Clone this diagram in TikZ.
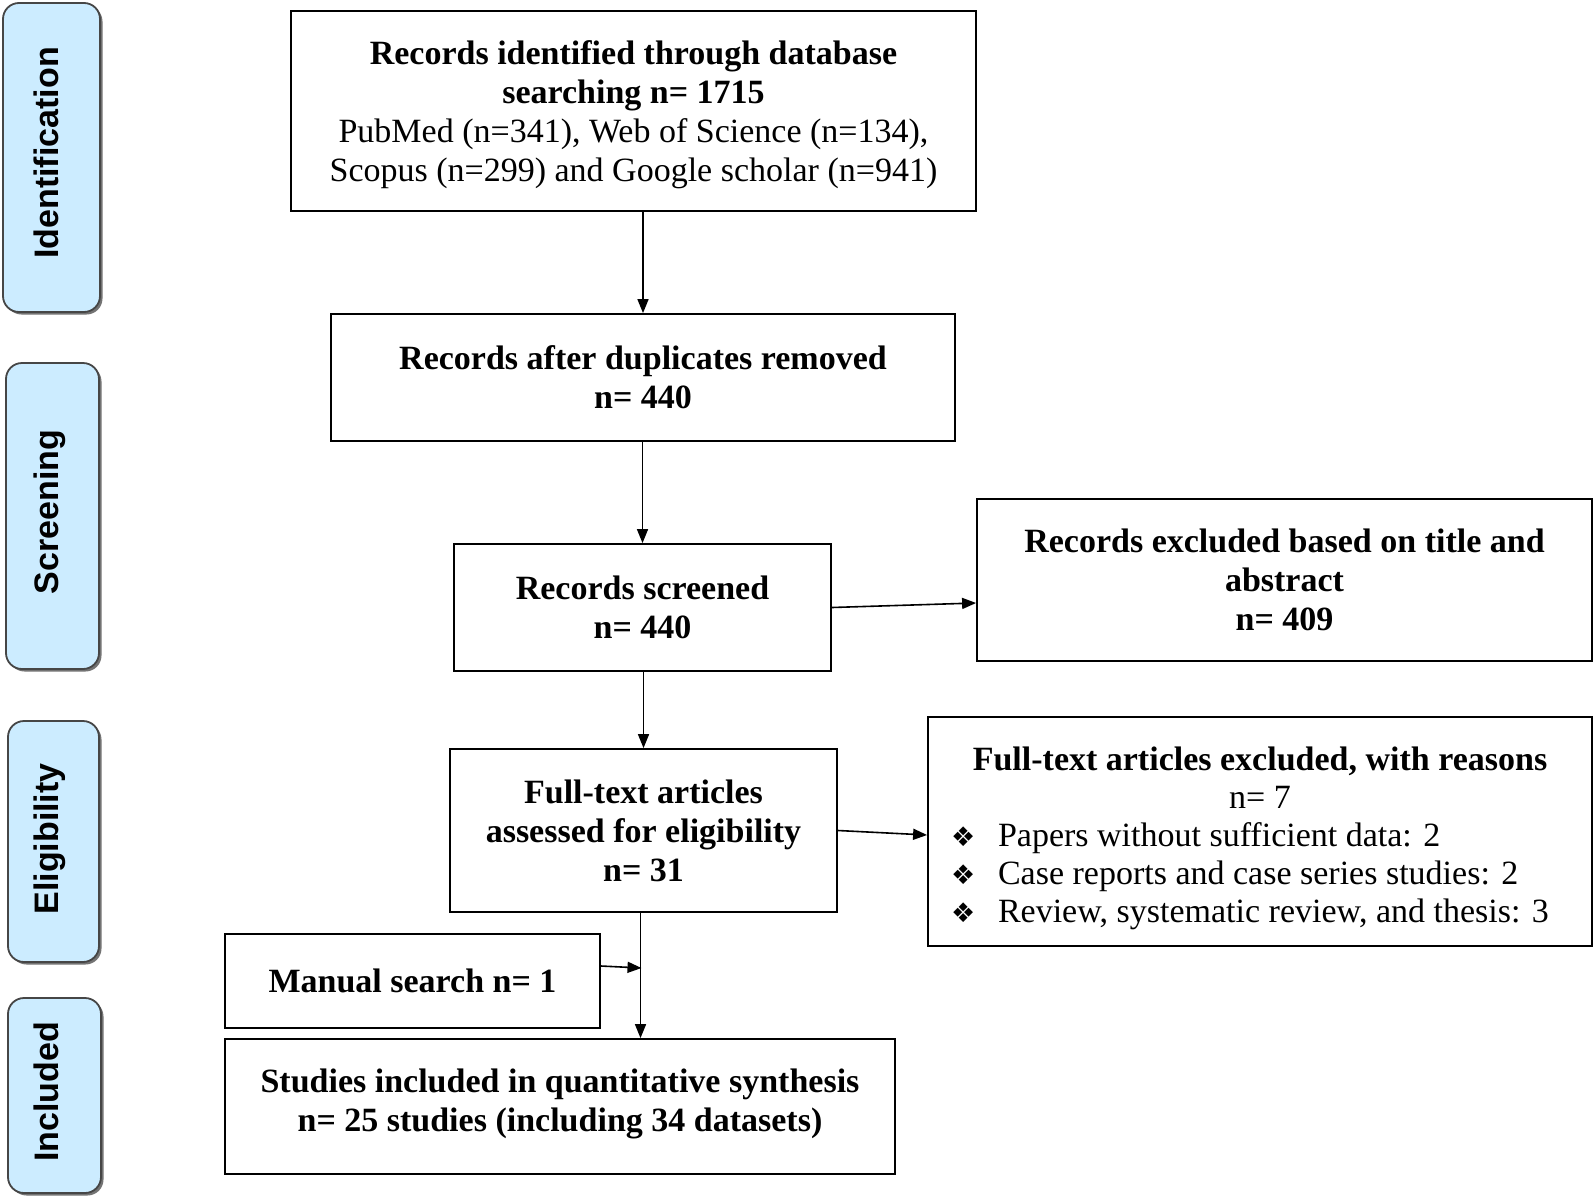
\documentclass[tikz,border=0pt]{standalone}
\usepackage{fontspec}
\setmainfont{Liberation Serif}
\newfontfamily\sidefont{Liberation Sans}
\newfontfamily\symfont{DejaVu Sans}
\usetikzlibrary{arrows.meta,calc,shadows}
\definecolor{sideblue}{RGB}{204,236,255}
\definecolor{sideline}{RGB}{70,70,70}
\newcommand{\bul}{\makebox[47pt][l]{\symfont\fontsize{27}{27}\selectfont ❖}}
\begin{document}
\begin{tikzpicture}[x=1pt,y=-1pt,
  box/.style={draw=black,line width=1.8pt,align=center,inner sep=0pt,
    font=\fontsize{34}{39}\selectfont},
  side/.style={draw=sideline,fill=sideblue,line width=1.8pt,rounded corners=16pt,
    drop shadow={shadow xshift=2.5pt,shadow yshift=-2.5pt,fill=black!55,opacity=1}},
  sidelabel/.style={rotate=90,anchor=base,inner sep=0pt,
    font=\sidefont\bfseries\fontsize{34}{40}\selectfont},
  arr/.style={-{Triangle[length=14pt,width=11pt]},line width=1.6pt}]
\fill[white] (0,0) rectangle (1594,1196);
\useasboundingbox (0,0) rectangle (1594,1196);

% side phase boxes
\node[side,minimum width=97pt,minimum height=309pt] (s1) at (51.5,157.5) {};
\node[side,minimum width=93pt,minimum height=306pt] (s2) at (52.5,516) {};
\node[side,minimum width=91pt,minimum height=241pt] (s3) at (53.5,841.5) {};
\node[side,minimum width=93pt,minimum height=195pt] (s4) at (54.5,1095.5) {};
\node[sidelabel] (l1) at (58,153) {Identification};
\node[sidelabel] (l2) at (58,512) {Screening};
\node[sidelabel] (l3) at (58,839) {Eligibility};
\node[sidelabel] (l4) at (58,1092) {Included};

% main boxes
\node[box,minimum width=685pt,minimum height=200pt] (b1) at (633.5,111)
  {\mbox{}\\[-7pt]
   \textbf{Records identified through database}\\
   \textbf{searching n= 1715}\\
   PubMed (n=341), Web of Science (n=134),\\
   Scopus (n=299) and Google scholar (n=941)};
\node[box,minimum width=624pt,minimum height=127pt] (b2) at (643,377.5)
  {\textbf{Records after duplicates removed}\\ \textbf{n= 440}};
\node[box,minimum width=377pt,minimum height=127pt] (b3) at (642.5,607.5)
  {\textbf{Records screened}\\ \textbf{n= 440}};
\node[box,minimum width=615pt,minimum height=162pt] (b4) at (1284.5,580)
  {\textbf{Records excluded based on title and}\\ \textbf{abstract}\\ \textbf{n= 409}};
\node[box,minimum width=387pt,minimum height=163pt] (b5) at (643.5,830.5)
  {\textbf{Full-text articles}\\ \textbf{assessed for eligibility}\\ \textbf{n= 31}};
\node[box,minimum width=664pt,minimum height=229pt,
  font=\fontsize{34}{38}\selectfont] (b6) at (1260,831.5)
  {\mbox{}\\
   \textbf{Full-text articles excluded, with reasons}\\
   n= 7\\
   \makebox[618pt][l]{\bul Papers without sufficient data: 2}\\
   \makebox[618pt][l]{\bul Case reports and case series studies: 2}\\
   \makebox[618pt][l]{\bul Review, systematic review, and thesis: 3}};
\node[box,minimum width=375pt,minimum height=94pt] (m) at (412.5,981)
  {\textbf{Manual search n= 1}};
\node[box,minimum width=670pt,minimum height=135pt] (b7) at (560,1106.5)
  {\textbf{Studies included in quantitative synthesis}\\
   \textbf{n= 25 studies (including 34 datasets)}\\[-27pt]\mbox{}};

% connectors
\draw[arr] (b2.north |- b1.south) -- (b2.north);
\draw[arr] (b3.north |- b2.south) -- (b3.north);
\draw[arr] (b3.east) -- ([yshift=-23pt]b4.west);
\draw[arr] (b5.north |- b3.south) -- (b5.north);
\draw[arr] (b5.east) -- ([yshift=-3.5pt]b6.west);
\draw[arr] ([xshift=-3pt]b5.south) -- ([xshift=-3pt]b5.south |- b7.north);
\draw[arr] ([yshift=15pt]m.east) -- ([xshift=-2pt,yshift=13pt]m.east -| b5.south);
\end{tikzpicture}
\end{document}
